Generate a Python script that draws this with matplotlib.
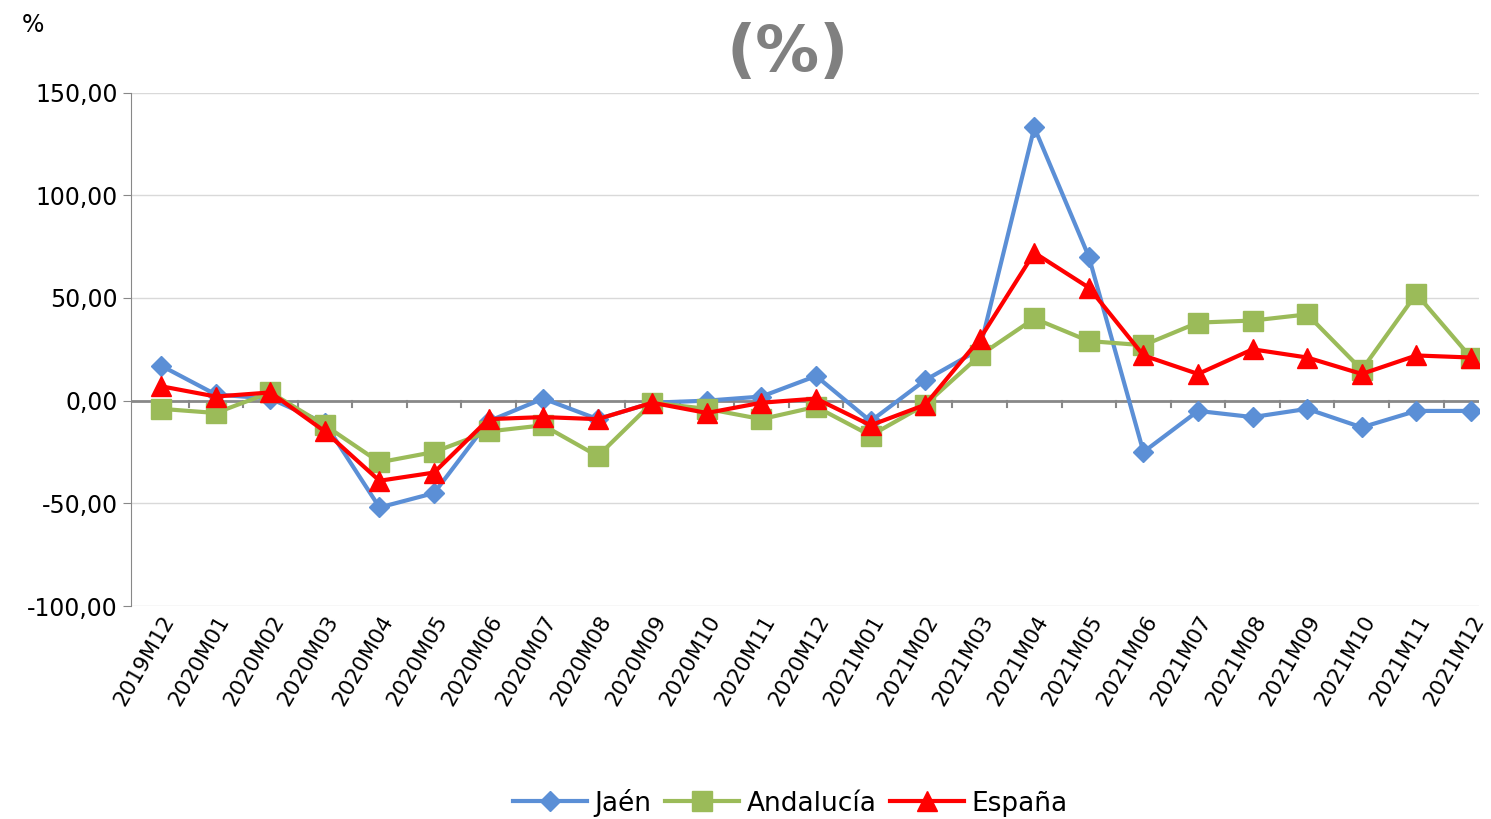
import matplotlib
matplotlib.use("Agg")
import matplotlib.pyplot as plt

periods = ["2019M12"] + [f"2020M{m:02d}" for m in range(1, 13)] + [f"2021M{m:02d}" for m in range(1, 13)]
jaen = [17, 3, 1, -11, -52, -45, -10, 1, -9, -1, 0, 2, 12, -10, 10, 25, 133, 70, -25, -5, -8, -4, -13, -5, -5]
andalucia = [-4, -6, 4, -12, -30, -25, -15, -12, -27, -1, -4, -9, -3, -17, -2, 22, 40, 29, 27, 38, 39, 42, 15, 52, 21]
espana = [7, 2, 4, -15, -39, -35, -9, -8, -9, -1, -6, -1, 1, -12, -2, 30, 72, 55, 22, 13, 25, 21, 13, 22, 21]

plt.rcParams['font.family'] = ['DejaVu Sans']
fig = plt.figure(figsize=(14.91, 8.19), dpi=100)
ax = fig.add_axes([0.088, 0.26, 0.904, 0.627])
x = range(len(periods))
ax.plot(x, jaen, color='#5B8FD6', lw=3, marker='D', ms=10, label='Jaén')
ax.plot(x, andalucia, color='#9BBB59', lw=3, marker='s', ms=14, label='Andalucía')
ax.plot(x, espana, color='#FF0000', lw=3, marker='^', ms=14, label='España')

ax.set_ylim(-100, 150)
ax.set_yticks([-100, -50, 0, 50, 100, 150])
ax.set_yticklabels(["-100,00", "-50,00", "0,00", "50,00", "100,00", "150,00"], fontsize=17)
ax.set_xlim(-0.55, len(periods) - 0.85)
ax.set_xticks(list(x))
ax.set_xticklabels(periods, rotation=60, ha='right', rotation_mode='anchor', fontsize=15.5)
ax.grid(axis='y', color='#d9d9d9', lw=1)
ax.set_axisbelow(True)
for s in ['top', 'right', 'bottom']:
    ax.spines[s].set_visible(False)
ax.spines['left'].set_color('#888888')
ax.axhline(0, color='#888888', lw=2, zorder=1)
ax.tick_params(axis='x', length=0, pad=4)
ax.tick_params(axis='y', length=6, color='#888888')
for i in x:
    ax.plot([i + 0.5, i + 0.5], [0, -3], color='#888888', lw=1.5, zorder=1)

fig.text(0.528, 0.935, "(%)", ha='center', va='center', fontsize=46, fontweight='bold', color='#808080')
fig.text(0.022, 0.97, "%", ha='center', va='center', fontsize=17)
ax.legend(loc='center', bbox_to_anchor=(0.53, 0.02), bbox_transform=fig.transFigure, ncol=3, frameon=False,
          fontsize=19, handlelength=2.8, columnspacing=0.5, handletextpad=0.3)
fig.savefig("out.png", dpi=100)
